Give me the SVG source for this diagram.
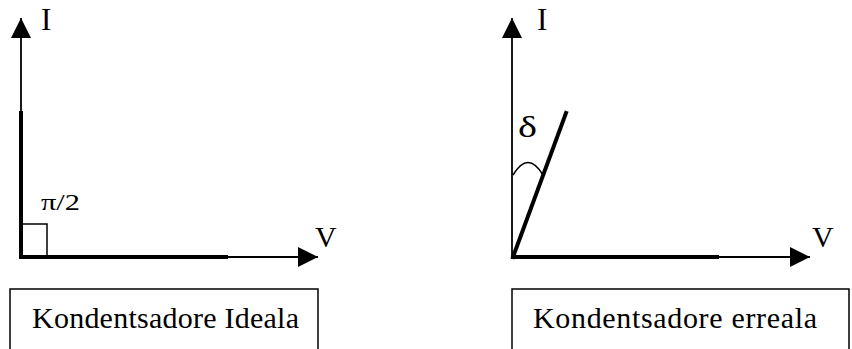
<svg xmlns="http://www.w3.org/2000/svg" width="852" height="349" viewBox="0 0 852 349">
<style>
.thin{stroke:#000;stroke-width:1.8;fill:none}
.thick{stroke:#000;stroke-width:4;fill:none;stroke-linecap:square}
.t{font-family:"Liberation Serif","Times New Roman",serif;fill:#000}
.box{fill:#fff;stroke:#000;stroke-width:1.5}
</style>
<defs>
<marker id="ah" markerWidth="20" markerHeight="20" refX="20" refY="10" orient="auto" markerUnits="userSpaceOnUse">
<path d="M0,0 L20,10 L0,20 Z" fill="#000"/>
</marker>
</defs>
<g id="connectors">
<line class="thin" x1="21" y1="257" x2="21" y2="18" marker-end="url(#ah)"/>
<line class="thin" x1="21" y1="257" x2="318" y2="257" marker-end="url(#ah)"/>
<line class="thin" x1="512" y1="257" x2="512" y2="18" marker-end="url(#ah)"/>
<line class="thin" x1="512" y1="257" x2="810" y2="257" marker-end="url(#ah)"/>
</g>
<g id="ideal-vectors">
<line class="thick" x1="21" y1="113" x2="21" y2="257"/>
<line class="thick" x1="21" y1="257" x2="226" y2="257"/>
<rect x="21" y="224" width="26" height="33" class="thin" style="stroke-width:1.5"/>
</g>
<g id="real-vectors">
<line class="thick" x1="513" y1="257" x2="566" y2="113"/>
<line class="thick" x1="513" y1="257" x2="717" y2="257"/>
<path d="M513,175 Q528,150 543,175" class="thin" style="stroke-width:1.5"/>
</g>
<g id="labels">
<text class="t" x="41" y="30" font-size="31">I</text>
<text class="t" x="315" y="247" font-size="30">V</text>
<text class="t" x="41" y="210" font-size="24" textLength="39" lengthAdjust="spacingAndGlyphs">π/2</text>
<text class="t" x="537" y="30" font-size="31">I</text>
<text class="t" x="812" y="247" font-size="30">V</text>
<text class="t" x="518" y="137" font-size="30" textLength="19" lengthAdjust="spacingAndGlyphs">δ</text>
</g>
<g id="box-ideal">
<path class="box" d="M10,360 V289 H318 V360"/>
<text class="t" x="32" y="328" font-size="30" textLength="267">Kondentsadore Ideala</text>
</g>
<g id="box-real">
<path class="box" d="M512,360 V289 H849 V360"/>
<text class="t" x="533" y="328" font-size="30" textLength="284">Kondentsadore erreala</text>
</g>
</svg>
